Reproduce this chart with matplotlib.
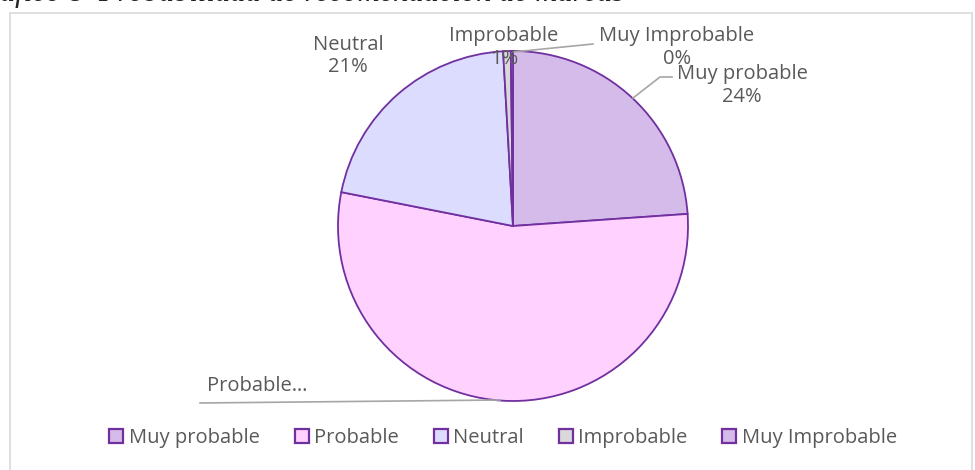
import matplotlib
matplotlib.use('Agg')
import matplotlib.pyplot as plt
from matplotlib.patches import Rectangle, Patch

plt.rcParams['font.family'] = ['Open Sans', 'DejaVu Sans']

# datos (porcentajes)
categorias = ['Muy probable', 'Probable', 'Neutral', 'Improbable', 'Muy Improbable']
valores = [23.9, 54.2, 21.0, 0.7, 0.2]
colores = ['#D5BBE9', '#FFD1FF', '#DCDCFF', '#D9D9D9', '#D5BBE9']

W, H = 975, 470
fig = plt.figure(figsize=(W / 100, H / 100), dpi=100)
ax = fig.add_axes([0, 0, 1, 1])
ax.set_xlim(0, W)
ax.set_ylim(0, H)
ax.set_aspect('equal')
ax.axis('off')

def py(y):
    # coordenada y en pixeles (desde arriba) -> datos
    return H - y

# marco del gráfico
ax.add_patch(Rectangle((9.5, py(480)), 962, 467, fill=False, edgecolor='#D9D9D9', linewidth=1.2))

# título cortado arriba
fig.text(-34 / W, py(-6.5) / H, 'Gráfico 8  Probabilidad de recomendación de marcas', fontsize=22,
         family='Liberation Serif', style='italic', color='#222', va='center', ha='left')

wedges, _ = ax.pie(valores, colors=colores, startangle=90, counterclock=False,
                   center=(513, py(226)), radius=175,
                   wedgeprops=dict(edgecolor='#7030A0', linewidth=1.3))
ax.set_xlim(0, W)
ax.set_ylim(0, H)

total = sum(valores)
pct = [f'{v / total:.0%}' for v in valores]
txt = dict(fontsize=14.5, color='#595959', ha='center', va='center')

ax.text(742, py(86), f'{categorias[0]}\n{pct[0]}', linespacing=1.2, **txt)
ax.text(257, py(386), 'Probable…', **txt)
ax.text(348, py(56), f'{categorias[2]}\n{pct[2]}', linespacing=1.2, **txt)
ax.text(504, py(47), f'{categorias[3]}\n{pct[3]}', linespacing=1.2, **txt)
ax.text(677, py(47), f'{categorias[4]}\n{pct[4]}', linespacing=1.2, **txt)

# líneas guía
gl = dict(color='#A6A6A6', linewidth=1.2)
ax.plot([200, 500], [py(403), py(400)], **gl)
ax.plot([513, 593], [py(52), py(44)], **gl)
ax.plot([633, 660, 672], [py(98), py(77), py(77)], **gl)

handles = [Patch(facecolor=c, edgecolor='#7030A0', linewidth=1.6, label=l) for c, l in zip(colores, categorias)]
fig.legend(handles=handles, loc='center', bbox_to_anchor=(503 / W, py(438) / H), ncol=5,
           frameon=False, fontsize=14.5, handlelength=0.7, handleheight=0.7,
           handletextpad=0.25, columnspacing=1.75, labelcolor='#595959')

fig.savefig('out.png', dpi=100)
